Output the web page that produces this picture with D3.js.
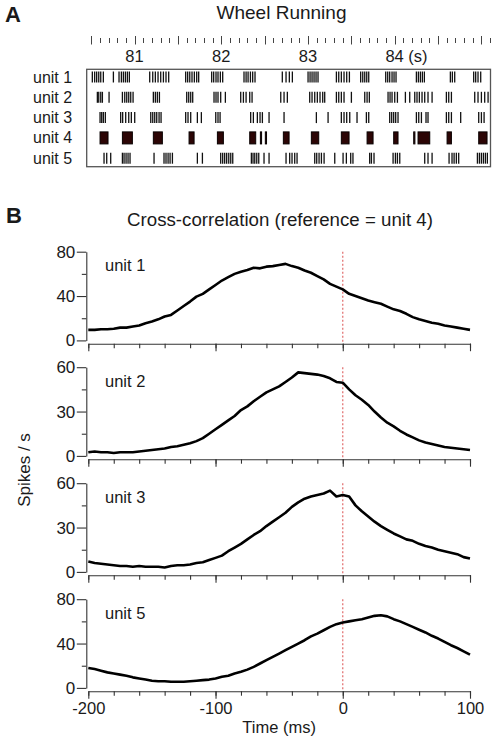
<!DOCTYPE html>
<html><head><meta charset="utf-8">
<script src="https://cdn.jsdelivr.net/npm/d3@7"></script>
<style>
body{margin:0;background:#fff}
svg{display:block}
text{font-family:"Liberation Sans",Arial,Helvetica,sans-serif;fill:#1a1a1a}
</style>
</head><body>
<svg id="chart" width="498" height="742"></svg>
<script>
// ---------------- DATA ----------------
const rasterUnits = ["unit 1","unit 2","unit 3","unit 4","unit 5"];
const rasterTickValues = [81, 82, 83, 84];
const rasterTickLabels = ["81", "82", "83", "84 (s)"];

const spikesUnit1 = [80.513,80.540,80.563,80.587,80.610,80.640,80.756,80.821,80.848,80.871,80.894,80.917,80.940,
  81.175,81.210,81.240,81.271,81.302,81.333,81.363,81.394,81.590,81.613,81.637,81.663,81.690,81.717,81.740,
  81.890,81.913,81.940,81.963,81.990,82.017,82.263,82.287,82.310,82.337,82.363,82.390,82.705,82.748,82.786,82.821,
  83.002,83.025,83.048,83.071,83.094,83.117,83.329,83.356,83.386,83.417,83.448,83.479,83.609,83.633,83.656,83.679,83.702,
  83.898,83.921,83.944,83.971,83.994,84.017,84.252,84.275,84.298,84.321,84.344,84.644,84.667,84.694,84.913,84.936,84.963,84.994];
const spikesUnit2 = [80.571,80.587,80.610,80.629,80.706,80.860,80.887,80.910,80.933,80.956,80.983,81.217,81.240,81.263,81.287,
  81.602,81.625,81.648,81.671,81.917,81.940,81.963,81.994,82.048,82.225,82.256,82.287,82.329,82.356,82.687,82.725,82.763,
  83.021,83.048,83.079,83.109,83.140,83.171,83.194,83.329,83.356,83.386,83.417,83.502,83.656,83.683,83.709,
  83.925,83.948,83.971,84.002,84.033,84.125,84.175,84.233,84.259,84.286,84.317,84.348,84.386,84.433,84.598,84.625,84.656,
  84.925,84.963,85.002,85.040,85.079];
const spikesUnit3 = [80.602,80.621,80.640,80.663,80.840,80.863,80.898,80.933,80.963,81.002,81.187,81.210,81.233,81.256,81.283,81.306,
  81.590,81.617,81.648,81.725,81.771,81.937,81.963,81.987,82.340,82.371,82.417,82.448,82.475,82.552,82.725,83.098,83.233,
  83.386,83.417,83.448,83.483,83.567,83.675,83.702,83.944,83.967,83.990,84.013,84.040,84.252,84.279,84.310,84.363,84.386,
  84.598,84.625,84.656,84.763,84.971,85.002,85.033];
// unit 4 fires in dense bursts: [onset, offset] in s
const burstsUnit4 = [[80.602,80.694],[80.860,80.975],[81.217,81.321],[81.629,81.687],[81.956,82.025],[82.329,82.398],
  [82.452,82.462],[82.509,82.519],[82.717,82.783],[83.040,83.125],[83.386,83.475],[83.683,83.752],[83.990,84.040],
  [84.221,84.231],[84.271,84.406],[84.606,84.656],[84.971,85.067]];
const spikesUnit5 = [80.648,80.679,80.725,80.860,80.879,80.902,80.925,80.948,81.225,81.340,81.363,81.387,81.410,81.437,
  81.725,81.783,81.994,82.017,82.040,82.063,82.087,82.110,82.133,82.348,82.367,82.387,82.410,82.433,82.494,82.552,
  82.748,82.790,82.817,82.848,82.875,83.079,83.102,83.129,83.156,83.187,83.310,83.406,83.444,83.494,83.520,83.713,83.733,83.763,
  83.983,84.010,84.033,84.060,84.348,84.386,84.433,84.629,84.663,84.687,84.713,84.740,84.956,84.979,85.002,85.025,85.048,85.071];

// cross-correlograms, 5 ms bins from -200 to +100 ms (spikes / s)
const lagStartMs = -200, lagEndMs = 100, lagBinMs = 5;
const ccUnit1 = [9.5,9.5,10,10,10.5,11.5,11.5,12.5,13.5,15.5, 17,19,21.5,23,27,31,35,39.5,42,46,
  50,54,57,60,62,63.5,65.5,65,66.5,67, 68,69,67,65.5,63,61,58,55,51,48.5,
  46,42,40,38,36,34.5,33,30.5,28,26.5, 24,21,19,17.5,16,15,13.5,12.5,11.5,10.5, 9.5];
const ccUnit2 = [2.5,3,2.5,2.5,2,2.5,2.5,2.5,3,3.5, 4,4.5,5,6,6.5,7.5,8.5,10,12,15,
  18,21,24,27,31,33.5,37,40,43,45, 47,50,53,56.5,56,55.5,55,54,52.5,50,
  49.5,45,41,38,34.5,30,26,22.5,20,17, 14.5,12.5,10.5,9,8,7,6,5.5,5,4.5, 4];
const ccUnit3 = [7,6,5.5,5,4.5,4,4,3.5,4,3.5, 3.5,3.5,3,4,4.5,4.5,5,6,6.5,8,
  9.5,11,14,16.5,19,22,25,27.5,31,34, 37,40,44,47,49.5,51,52,53,55,51,
  52,51,45,41,37.5,34,31,28.5,26,24, 22,21,19,17.5,16.5,15,14,13,12,10, 9];
const ccUnit5 = [18,17,15.5,14,13,12,11,9.5,8.5,7.5, 6.5,6,6,5.5,5.5,5.5,6,6.5,7,7.5,
  8.5,10,11,13,14.5,16.5,19,22,25,28, 31,34,37,40,43,46.5,49,52,55,57.5,
  59,60,61,62,63.5,65,65.5,64.5,62,60, 57.5,55,52.5,50,47,44.5,41.5,38.5,36,33, 30];
const ccLabels = ["unit 1","unit 2","unit 3","unit 5"];
const ccMax = [80, 60, 60, 80];
const ccMajorTicks = [[0,40,80],[0,30,60],[0,30,60],[0,40,80]];
const ccMinorTicks = [[20,60],[15,45],[15,45],[20,60]];
const lagMajorTicks = [-200,-100,0,100];

// ---------------- DRAW ----------------
const svg = d3.select("#chart");
const font = '"Liberation Sans",Arial,Helvetica,sans-serif';

// Panel letters and titles
svg.append("text").attr("x",5).attr("y",22).attr("font-size",22).attr("font-weight","bold").text("A");
svg.append("text").attr("x",281.5).attr("y",18.5).attr("text-anchor","middle").attr("font-size",19).attr("fill","#222").text("Wheel Running");
svg.append("text").attr("x",6).attr("y",223).attr("font-size",22).attr("font-weight","bold").text("B");
svg.append("text").attr("x",280).attr("y",226).attr("text-anchor","middle").attr("font-size",18.7).attr("fill","#222").text("Cross-correlation (reference = unit 4)");

// ---- Panel A: raster ----
const xT = d3.scaleLinear().domain([80.448, 85.107]).range([86.7, 490.5]);
const yRow = d3.scalePoint().domain(rasterUnits).range([77, 158.2]);
const tickH = 11;

// top time axis: minor every 0.1 s, taller every 0.5 s
const minorT = d3.range(805, 852, 1).map(d => d / 10);
const gTop = svg.append("g");
gTop.selectAll("line").data(minorT).join("line")
  .attr("x1", d => Math.round(xT(d)) + 0.5).attr("x2", d => Math.round(xT(d)) + 0.5)
  .attr("y1", d => (Math.round(d*10) % 5 === 0) ? 36 : 38)
  .attr("y2", d => (Math.round(d*10) % 5 === 0) ? 44.5 : 43)
  .attr("stroke", "#444").attr("stroke-width", 1);
rasterTickValues.forEach((v, i) => {
  const lab = rasterTickLabels[i];
  if (lab.indexOf(" ") > 0) {
    const t = svg.append("text").attr("y", 61.5).attr("font-size", 16.5).attr("fill","#222");
    const num = lab.split(" ")[0];
    t.text(num);
    const w = t.node().getComputedTextLength();
    t.text(lab).attr("x", xT(v) - w/2);
  } else {
    svg.append("text").attr("x", xT(v)).attr("y", 61.5).attr("text-anchor","middle")
      .attr("font-size", 16.5).attr("fill","#222").text(lab);
  }
});

// frame
svg.append("rect").attr("x", 86.7).attr("y", 69.3).attr("width", 490.5 - 86.7).attr("height", 166.7 - 69.3)
  .attr("fill","none").attr("stroke","#555").attr("stroke-width",1.3);

// row labels
svg.selectAll(".rowlab").data(rasterUnits).join("text").attr("class","rowlab")
  .attr("x", 33).attr("y", d => yRow(d) + 5.5).attr("font-size", 16).attr("fill","#222").text(d => d);

const spikeSets = [["unit 1", spikesUnit1], ["unit 2", spikesUnit2], ["unit 3", spikesUnit3], ["unit 5", spikesUnit5]];
spikeSets.forEach(([u, arr]) => {
  svg.append("g").selectAll("line").data(arr).join("line")
    .attr("x1", d => xT(d)).attr("x2", d => xT(d))
    .attr("y1", yRow(u) - tickH/2).attr("y2", yRow(u) + tickH/2)
    .attr("stroke", "#111").attr("stroke-width", 1.3);
});
svg.append("g").selectAll("rect").data(burstsUnit4).join("rect")
  .attr("x", d => xT(d[0])).attr("width", d => Math.max(1.2, xT(d[1]) - xT(d[0])))
  .attr("y", yRow("unit 4") - 6).attr("height", 12)
  .attr("fill", "#2c0505").attr("stroke", "#080000").attr("stroke-width", 1);

// ---- Panel B: cross-correlograms ----
const lags = d3.range(lagStartMs, lagEndMs + 1, lagBinMs);
const ccSeries = [ccUnit1, ccUnit2, ccUnit3, ccUnit5];
const xL = d3.scaleLinear().domain([lagStartMs, lagEndMs]).range([88.3, 470]);
const panelTops = [251.7, 367.2, 483.2, 599.2];
const panelH = 88.7;
const axisX = 86.3;

ccSeries.forEach((vals, i) => {
  const top = panelTops[i], zero = top + panelH, axY = zero + 3.3;
  const y = d3.scaleLinear().domain([0, ccMax[i]]).range([zero, top]);
  const g = svg.append("g");

  // y axis (major + minor)
  g.append("g").attr("transform", `translate(${axisX},0)`)
    .call(d3.axisLeft(y).tickValues(ccMinorTicks[i]).tickSize(4.5).tickFormat(""))
    .call(s => s.select(".domain").remove());
  g.append("g").attr("transform", `translate(${axisX},0)`)
    .call(d3.axisLeft(y).tickValues(ccMajorTicks[i]).tickSize(9.5).tickSizeOuter(0).tickPadding(1.5))
    .call(s => { s.selectAll("text").attr("font-size", 17).attr("font-family", font).attr("fill","#1a1a1a"); });

  // x axis (major + minor)
  const minor = d3.range(lagStartMs, lagEndMs + 1, 20);
  g.append("g").attr("transform", `translate(0,${axY})`)
    .call(d3.axisBottom(xL).tickValues(minor).tickSize(4.5).tickFormat("").tickSizeOuter(0));
  const xa = g.append("g").attr("transform", `translate(0,${axY})`)
    .call(d3.axisBottom(xL).tickValues(lagMajorTicks).tickSize(7.5).tickSizeOuter(0).tickPadding(4))
    .call(s => s.select(".domain").remove());
  if (i === ccSeries.length - 1) {
    xa.selectAll("text").attr("font-size", 16.5).attr("font-family", font).attr("fill","#1a1a1a")
      .text(d => d < 0 ? "-" + Math.abs(d) : d);
  } else {
    xa.selectAll("text").remove();
  }
  g.selectAll(".domain, .tick line").attr("stroke", "#333").attr("stroke-width", 1.1);

  // reference line at 0 ms
  g.append("line").attr("x1", xL(0)).attr("x2", xL(0)).attr("y1", top).attr("y2", axY)
    .attr("stroke", "#e06a6a").attr("stroke-width", 1.2).attr("stroke-dasharray", "2,2");

  // correlogram trace
  const line = d3.line().x((d, j) => xL(lags[j])).y(d => y(d)).curve(d3.curveLinear);
  g.append("path").datum(vals).attr("d", line)
    .attr("fill", "none").attr("stroke", "#000").attr("stroke-width", 2.6).attr("stroke-linejoin","round");

  g.append("text").attr("x", 105).attr("y", top + 19.5).attr("font-size", 16.5).attr("fill","#1a1a1a").text(ccLabels[i]);
});

svg.append("text").attr("transform", "translate(30,470) rotate(-90)").attr("text-anchor","middle")
  .attr("font-size", 17).attr("fill","#1a1a1a").text("Spikes / s");
svg.append("text").attr("x", xL(-50)).attr("y", 733).attr("text-anchor","middle")
  .attr("font-size", 16.5).attr("fill","#1a1a1a").text("Time (ms)");
</script>
</body></html>
